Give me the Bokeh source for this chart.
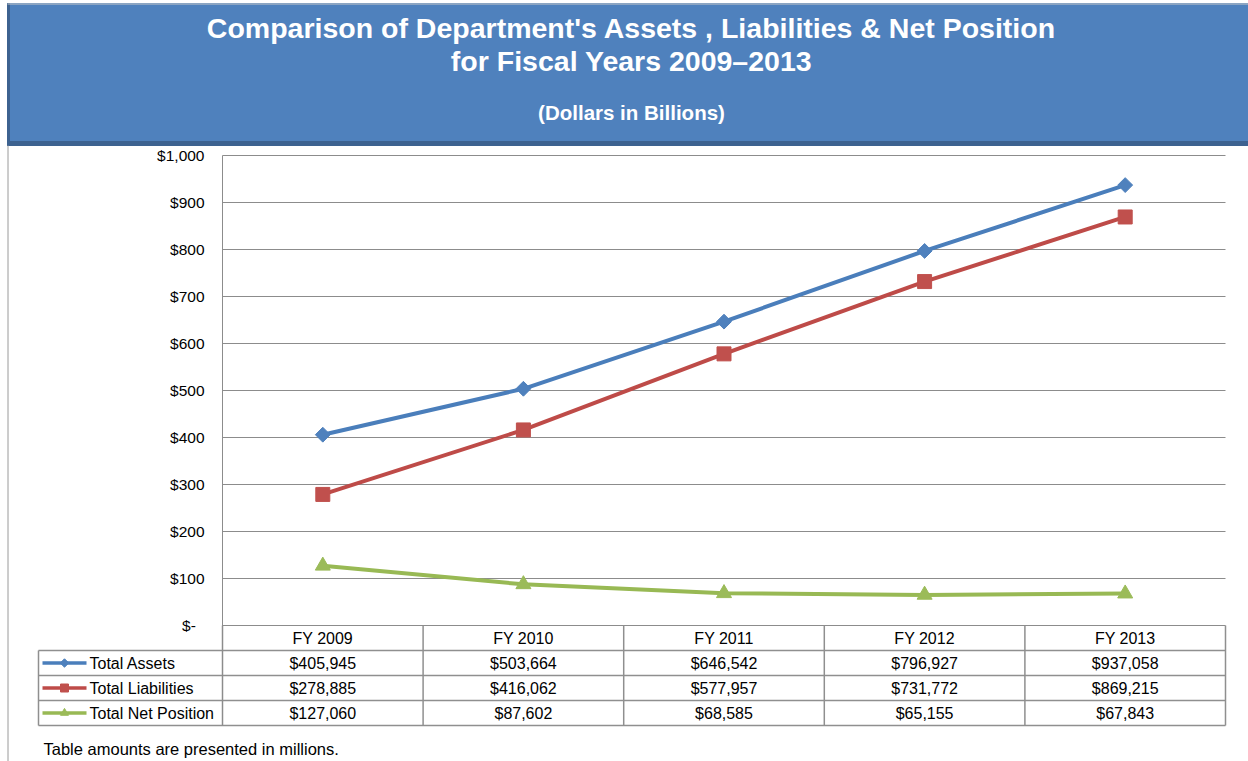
import numpy as np
from bokeh.plotting import figure
from bokeh.models import Range1d, FixedTicker, LinearAxis
from bokeh.core.properties import value
from bokeh.embed import file_html
from bokeh.resources import INLINE

# ---------------- data ----------------
categories = ["FY 2009", "FY 2010", "FY 2011", "FY 2012", "FY 2013"]
series_names = ["Total Assets", "Total Liabilities", "Total Net Position"]
total_assets = [405945, 503664, 646542, 796927, 937058]          # $ millions
total_liabilities = [278885, 416062, 577957, 731772, 869215]     # $ millions
total_net_position = [127060, 87602, 68585, 65155, 67843]        # $ millions
y_ticks = [0, 100, 200, 300, 400, 500, 600, 700, 800, 900, 1000]  # $ billions
y_tick_labels = ["$-\u00a0\u00a0", "$100", "$200", "$300", "$400", "$500",
                 "$600", "$700", "$800", "$900", "$1,000"]
title_line1 = "Comparison of Department's Assets , Liabilities & Net Position"
title_line2 = "for Fiscal Years 2009\u20132013"
subtitle = "(Dollars in Billions)"
footnote = "Table amounts are presented in millions."

# ---------------- styles / layout ----------------
FONT = "Liberation Sans"
BANNER_BLUE = "#4F81BD"
BANNER_DARK = "#3D6290"
GRID_GRAY = "#8c8c8c"
TABLE_GRAY = "#8f8f8f"
line_colors = ["#4A7EBB", "#BE4B48", "#98B954"]
fill_colors = ["#4F81BD", "#C0504D", "#9BBB59"]
markers = ["square", "square", "triangle"]
marker_angles = [np.pi / 4, 0.0, 0.0]
marker_sizes = [10.5, 14, 15]
legend_marker_sizes = [6, 8, 8]
series_values = [total_assets, total_liabilities, total_net_position]

W, H = 1248, 761
X0_PX = 222.0          # left edge of plot area / first category cell
UNIT_X = 200.6         # px per category
Y0_PX = 625.0          # baseline ($0)
PX_PER_Y = 0.47        # px per $ billion
ROW0_PX = 725.0        # bottom of data table
ROW_PX = 25.0          # table row height
LEGEND_COL_PX = 184.0

n = len(categories)
n_rows = len(series_names)
x_pos = [i + 0.5 for i in range(n)]

x_start = -X0_PX / UNIT_X
x_end = (W - X0_PX) / UNIT_X
y_start = -(H - Y0_PX) / PX_PER_Y
y_end = Y0_PX / PX_PER_Y
r_start = -(H - ROW0_PX) / ROW_PX
r_end = ROW0_PX / ROW_PX

p = figure(width=W, height=H, x_range=Range1d(x_start, x_end),
           y_range=Range1d(y_start, y_end), min_border=0,
           x_axis_location=None, y_axis_location=None,
           toolbar_location=None, tools="", output_backend="svg")
p.extra_y_ranges = {"rows": Range1d(r_start, r_end), "px": Range1d(H, 0)}
p.extra_x_ranges = {"px": Range1d(0, W)}
p.outline_line_color = None
p.grid.visible = False
p.background_fill_color = "white"
p.border_fill_color = "white"

# ---------------- banner ----------------
PX = dict(x_range_name="px", y_range_name="px")
p.quad(left=[7], right=[W], top=[3], bottom=[145], color=BANNER_BLUE, **PX)
p.quad(left=[7], right=[W], top=[141], bottom=[145], color=BANNER_DARK, **PX)
p.quad(left=[7], right=[9], top=[3], bottom=[145], color=BANNER_DARK, **PX)
p.segment(x0=[7], y0=[3.5], x1=[W], y1=[3.5], line_color="#c8c8c8", line_width=1, **PX)
p.segment(x0=[7.5], y0=[145], x1=[7.5], y1=[H], line_color="#9a9a9a", line_width=1, **PX)
p.text(x=[631], y=[27], text=[title_line1], text_align="center", text_baseline="middle",
       text_font=value(FONT), text_font_size="28.5px", text_font_style="bold",
       text_color="white", **PX)
p.text(x=[631], y=[60], text=[title_line2], text_align="center", text_baseline="middle",
       text_font=value(FONT), text_font_size="28.5px", text_font_style="bold",
       text_color="white", **PX)
p.text(x=[631], y=[112], text=[subtitle], text_align="center", text_baseline="middle",
       text_font=value(FONT), text_font_size="20.5px", text_font_style="bold",
       text_color="white", **PX)

# ---------------- y axis + grid ----------------
axis_bottom = (Y0_PX - ROW0_PX) / PX_PER_Y
yaxis = LinearAxis(fixed_location=0, ticker=FixedTicker(ticks=y_ticks, minor_ticks=[]),
                   bounds=(axis_bottom, y_ticks[-1]))
yaxis.major_label_overrides = {t: lab for t, lab in zip(y_ticks, y_tick_labels)}
yaxis.major_tick_out = 0
yaxis.major_tick_in = 0
yaxis.minor_tick_out = 0
yaxis.minor_tick_in = 0
yaxis.axis_line_color = GRID_GRAY
yaxis.major_label_standoff = 18
yaxis.major_label_text_font = FONT
yaxis.major_label_text_font_size = "15.5px"
yaxis.major_label_text_color = "black"
p.add_layout(yaxis, "left")

p.segment(x0=[0] * len(y_ticks), y0=y_ticks, x1=[n] * len(y_ticks), y1=y_ticks,
          line_color=GRID_GRAY, line_width=1)

# ---------------- series ----------------
for vals, lc, fc, mk, ang, sz in zip(series_values, line_colors, fill_colors, markers,
                                      marker_angles, marker_sizes):
    yb = [v / 1000 for v in vals]
    p.line(x_pos, yb, line_width=4, line_color=lc)
    p.scatter(x_pos, yb, marker=mk, angle=ang, size=sz, fill_color=fc, line_color=fc)

# ---------------- data table ----------------
R = dict(y_range_name="rows")
leg_left = -LEGEND_COL_PX / UNIT_X
row_bounds = list(range(n_rows + 1))
p.segment(x0=[leg_left] * len(row_bounds), y0=row_bounds, x1=[n] * len(row_bounds),
          y1=row_bounds, line_color=TABLE_GRAY, line_width=1.5, **R)
p.segment(x0=[leg_left], y0=[0], x1=[leg_left], y1=[n_rows],
          line_color=TABLE_GRAY, line_width=1.5, **R)
vb = list(range(0, n + 1))
p.segment(x0=vb, y0=[0] * len(vb), x1=vb, y1=[n_rows + 1] * len(vb),
          line_color=TABLE_GRAY, line_width=1.5, **R)

p.text(x=x_pos, y=[n_rows + 0.5] * n, text=categories, text_align="center",
       text_baseline="middle", text_font=value(FONT), text_font_size="16px",
       text_color="black", **R)

key_x0 = (42 - X0_PX) / UNIT_X
key_x1 = (86 - X0_PX) / UNIT_X
key_label_x = (89 - X0_PX) / UNIT_X
for i, (name, vals, lc, fc, mk, ang, lsz) in enumerate(zip(series_names, series_values,
                                                          line_colors, fill_colors, markers,
                                                          marker_angles, legend_marker_sizes)):
    ry = n_rows - 0.5 - i
    p.line([key_x0, key_x1], [ry, ry], line_width=3.5, line_color=lc, **R)
    p.scatter([(key_x0 + key_x1) / 2], [ry], marker=mk, angle=ang, size=lsz,
              fill_color=fc, line_color=fc, **R)
    p.text(x=[key_label_x], y=[ry], text=[name], text_align="left", text_baseline="middle",
           text_font=value(FONT), text_font_size="16px", text_color="black", **R)
    p.text(x=x_pos, y=[ry] * n, text=[f"${v:,}" for v in vals], text_align="center",
           text_baseline="middle", text_font=value(FONT), text_font_size="16px",
           text_color="black", **R)

p.text(x=[(43 - X0_PX) / UNIT_X], y=[-23.5 / ROW_PX], text=[footnote], text_align="left",
       text_baseline="middle", text_font=value(FONT), text_font_size="16.5px",
       text_color="black", **R)

open("out.html", "w").write(file_html(p, INLINE))
